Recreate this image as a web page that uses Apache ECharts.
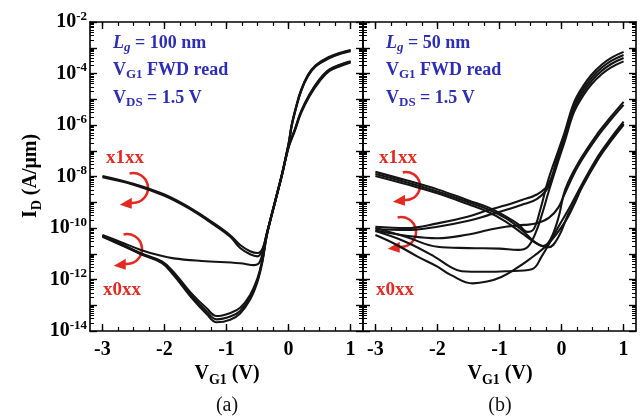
<!DOCTYPE html>
<html><head><meta charset="utf-8">
<script src="https://cdn.jsdelivr.net/npm/echarts@6/dist/echarts.min.js"></script>
<style>html,body{margin:0;padding:0;background:#fff}#c{width:643px;height:419px}</style>
</head><body><div id="c"></div>
<script>
// ---- tick / label values ----
const xMajorTicks = [-3, -2, -1, 0, 1];
const xMinorTicks = [-3, -2.75, -2.5, -2.25, -2, -1.75, -1.5, -1.25, -1, -0.75, -0.5, -0.25, 0, 0.25, 0.5, 0.75, 1];
const yLabelValues = [1e-14, 1e-12, 1e-10, 1e-8, 1e-6, 1e-4, 1e-2];
const yMajorTicks = [1e-14, 1e-13, 1e-12, 1e-11, 1e-10, 1e-9, 1e-8, 1e-7, 1e-6, 1e-5, 1e-4, 1e-3, 1e-2];
const yMinorMultipliers = [2, 3, 4, 5, 6, 7, 8, 9];

// ---- data: [V_G1 (V), log10(I_D / (A/um))] ----
// panel (a) Lg = 100 nm
const a_x1xx_1 = [[-3,-8.03],[-2.5,-8.32],[-2,-8.75],[-1.6,-9.25],[-1.2,-9.88],[-0.94,-10.34],[-0.78,-10.78],[-0.62,-11.02],[-0.5,-11.1],[-0.42,-10.85],[-0.35,-10.2],[-0.2,-8.8],[-0.1,-7.85],[0,-6.75],[0.05,-6.0],[0.12,-5.3],[0.2,-4.65],[0.31,-4.06],[0.44,-3.67],[0.66,-3.35],[0.85,-3.18],[1,-3.09]];
const a_x1xx_2 = [[-3,-7.98],[-2.5,-8.28],[-2,-8.7],[-1.6,-9.2],[-1.2,-9.82],[-0.94,-10.28],[-0.78,-10.66],[-0.62,-10.9],[-0.5,-10.97],[-0.42,-10.8],[-0.35,-10.2],[-0.2,-8.82],[-0.1,-7.88],[0,-6.85],[0.1,-6.2],[0.2,-5.5],[0.34,-4.83],[0.5,-4.25],[0.66,-3.86],[0.85,-3.66],[1,-3.54]];
const a_x0xx_1 = [[-3,-10.27],[-2.7,-10.55],[-2.38,-10.85],[-2.1,-11.05],[-1.85,-11.18],[-1.4,-11.28],[-0.78,-11.37],[-0.55,-11.44],[-0.46,-11.3],[-0.35,-10.22],[-0.2,-8.8],[-0.1,-7.83],[0,-6.72],[0.05,-6.02],[0.12,-5.33],[0.2,-4.68],[0.31,-4.1],[0.44,-3.7],[0.66,-3.38],[0.85,-3.2],[1,-3.11]];
const a_x0xx_2 = [[-3,-10.3],[-2.7,-10.62],[-2.38,-10.98],[-2.04,-11.3],[-1.85,-11.72],[-1.58,-12.5],[-1.32,-13.12],[-1.16,-13.42],[-0.94,-13.3],[-0.78,-13.1],[-0.62,-12.6],[-0.5,-11.95],[-0.42,-11.2],[-0.35,-10.25],[-0.2,-8.82],[-0.1,-7.87],[0,-6.82],[0.1,-6.18],[0.2,-5.48],[0.34,-4.8],[0.5,-4.22],[0.66,-3.84],[0.85,-3.64],[1,-3.52]];
const a_x0xx_3 = [[-3,-10.32],[-2.7,-10.64],[-2.38,-11.0],[-2.04,-11.33],[-1.85,-11.78],[-1.58,-12.58],[-1.32,-13.24],[-1.16,-13.55],[-0.94,-13.44],[-0.78,-13.22],[-0.62,-12.7],[-0.5,-12.02],[-0.42,-11.25],[-0.35,-10.27],[-0.2,-8.83],[-0.1,-7.86],[0,-6.78],[0.05,-6.05],[0.12,-5.36],[0.2,-4.7],[0.31,-4.12],[0.44,-3.72],[0.66,-3.4],[0.85,-3.22],[1,-3.13]];
const a_x0xx_4 = [[-3,-10.34],[-2.7,-10.66],[-2.38,-11.02],[-2.04,-11.36],[-1.85,-11.84],[-1.58,-12.66],[-1.32,-13.34],[-1.16,-13.66],[-0.94,-13.56],[-0.78,-13.32],[-0.62,-12.78],[-0.5,-12.08],[-0.42,-11.3],[-0.35,-10.3],[-0.2,-8.85],[-0.1,-7.9],[0,-6.88],[0.1,-6.24],[0.2,-5.55],[0.34,-4.87],[0.5,-4.3],[0.66,-3.9],[0.85,-3.7],[1,-3.57]];

// panel (b) Lg = 50 nm
const b_x1xx_1 = [[-3,-7.82],[-2.5,-8.15],[-2,-8.5],[-1.5,-8.93],[-1.18,-9.2],[-0.9,-9.55],[-0.7,-9.85],[-0.55,-10.15],[-0.45,-10.05],[-0.35,-9.35],[-0.21,-8.1],[-0.05,-6.98],[0.05,-6.28],[0.2,-5.13],[0.35,-4.48],[0.49,-4.03],[0.65,-3.65],[0.8,-3.39],[1,-3.16]];
const b_x1xx_2 = [[-3,-7.9],[-2.5,-8.22],[-2,-8.58],[-1.5,-9.0],[-1.18,-9.28],[-0.9,-9.62],[-0.64,-10.08],[-0.43,-10.55],[-0.3,-10.7],[-0.18,-10.45],[-0.05,-9.6],[0.06,-8.5],[0.275,-7.45],[0.6,-6.27],[0.8,-5.67],[1,-5.1]];
const b_x1xx_3 = [[-3,-7.98],[-2.5,-8.3],[-2,-8.65],[-1.5,-9.08],[-1.18,-9.38],[-0.9,-9.75],[-0.64,-10.2],[-0.4,-10.6],[-0.21,-10.75],[-0.05,-10.35],[0.1,-9.5],[0.22,-8.95],[0.33,-8.38],[0.6,-7.25],[0.8,-6.57],[1,-5.95]];
const b_x0xx_1 = [[-3,-9.95],[-2.5,-10.0],[-2,-9.82],[-1.5,-9.55],[-1.18,-9.3],[-0.9,-9.12],[-0.64,-8.91],[-0.4,-8.7],[-0.21,-8.3],[-0.05,-7.1],[0.05,-6.4],[0.2,-5.25],[0.35,-4.6],[0.49,-4.15],[0.65,-3.77],[0.8,-3.51],[1,-3.28]];
const b_x0xx_2 = [[-3,-10.05],[-2.5,-10.08],[-2,-9.95],[-1.5,-9.72],[-1.18,-9.5],[-0.9,-9.3],[-0.64,-9.1],[-0.4,-8.88],[-0.21,-8.4],[-0.05,-7.22],[0.05,-6.52],[0.2,-5.37],[0.35,-4.72],[0.49,-4.27],[0.65,-3.89],[0.8,-3.63],[1,-3.4]];
const b_x0xx_3 = [[-3,-10.1],[-2.5,-10.3],[-2,-10.4],[-1.5,-10.25],[-1.18,-10.08],[-0.9,-9.95],[-0.6,-9.88],[-0.4,-9.82],[-0.2,-9.6],[-0.05,-9.2],[0.06,-8.62],[0.275,-7.56],[0.6,-6.38],[0.8,-5.78],[1,-5.22]];
const b_x0xx_4 = [[-3,-10.12],[-2.5,-10.55],[-2.05,-11.11],[-1.8,-11.5],[-1.61,-11.68],[-1.24,-11.7],[-0.9,-11.68],[-0.48,-11.6],[-0.32,-11.1],[-0.05,-9.95],[0.15,-9.12],[0.33,-8.3],[0.6,-7.17],[0.8,-6.49],[1,-5.87]];
const b_x0xx_5 = [[-3,-10.27],[-2.7,-10.6],[-2.32,-11.11],[-2,-11.5],[-1.78,-11.83],[-1.43,-12.15],[-1.2,-12.08],[-0.97,-11.9],[-0.75,-11.6],[-0.53,-11.24],[-0.21,-10.6],[0.06,-9.75],[0.2,-9.1],[0.33,-8.42],[0.6,-7.29],[0.8,-6.61],[1,-5.99]];
const b_x0xx_6 = [[-3,-10.0],[-2.5,-10.35],[-2,-10.73],[-1.5,-10.78],[-1,-10.8],[-0.7,-10.85],[-0.55,-10.75],[-0.42,-10.2],[-0.3,-9.35],[-0.21,-8.6],[-0.05,-7.38],[0.05,-6.65],[0.2,-5.5],[0.35,-4.85],[0.49,-4.4],[0.65,-4.02],[0.8,-3.76],[1,-3.53]];

const panelA = [a_x1xx_1, a_x1xx_2, a_x0xx_1, a_x0xx_2, a_x0xx_3, a_x0xx_4];
const panelB = [b_x1xx_1, b_x1xx_2, b_x1xx_3, b_x0xx_1, b_x0xx_2, b_x0xx_3, b_x0xx_4, b_x0xx_5, b_x0xx_6];

// ---- styling ----
const F = 'Liberation Serif';
const BLUE = '#2e2eb4';
const RED = '#e32a22';
const yMinorTicks = [];
for (let e = -14; e < -2; e++) for (const m of yMinorMultipliers) yMinorTicks.push(m * Math.pow(10, e));

const grids = [
  {left: 90, top: 22, width: 273, height: 309},
  {left: 363, top: 22, width: 273, height: 309}
];
const XMIN = -3.2, XMAX = 1.2;

function xAxesFor(g) {
  const base = {type: 'value', gridIndex: g, min: XMIN, max: XMAX, splitLine: {show: false}};
  const line = {show: true, onZero: false, lineStyle: {color: '#000', width: 1.6}};
  const noLine = {show: false, onZero: false};
  return [
    Object.assign({}, base, {position: 'bottom', axisLine: line,
      axisTick: {show: true, inside: true, length: 7, customValues: xMajorTicks, lineStyle: {color: '#000', width: 1.4}},
      axisLabel: {show: true, customValues: xMajorTicks, margin: 9, color: '#000', fontFamily: F, fontWeight: 'bold', fontSize: 20,
        formatter: v => String(Math.round(v))}}),
    Object.assign({}, base, {position: 'bottom', axisLine: noLine,
      axisTick: {show: true, inside: true, length: 4, customValues: xMinorTicks, lineStyle: {color: '#000', width: 1.2}},
      axisLabel: {show: false}}),
    Object.assign({}, base, {position: 'top', axisLine: line,
      axisTick: {show: true, inside: true, length: 7, customValues: xMajorTicks, lineStyle: {color: '#000', width: 1.4}},
      axisLabel: {show: false}}),
    Object.assign({}, base, {position: 'top', axisLine: noLine,
      axisTick: {show: true, inside: true, length: 4, customValues: xMinorTicks, lineStyle: {color: '#000', width: 1.2}},
      axisLabel: {show: false}})
  ];
}
function yAxesFor(g) {
  const base = {type: 'log', logBase: 10, gridIndex: g, min: 1e-14, max: 1e-2, splitLine: {show: false}, minorTick: {show: false}};
  const line = {show: true, onZero: false, lineStyle: {color: '#000', width: 1.6}};
  const noLine = {show: false, onZero: false};
  const label = (g === 0) ? {show: true, customValues: yLabelValues, margin: 3, color: '#000',
      formatter: v => '{b|10}{s|' + Math.round(Math.log10(v)) + '}',
      rich: {
        b: {fontFamily: F, fontWeight: 'bold', fontSize: 20, color: '#000', lineHeight: 24},
        s: {fontFamily: F, fontWeight: 'bold', fontSize: 13, color: '#000', verticalAlign: 'top', lineHeight: 13}
      }} : {show: false};
  return [
    Object.assign({}, base, {position: 'left', axisLine: line,
      axisTick: {show: true, inside: true, length: 7, customValues: yMajorTicks, lineStyle: {color: '#000', width: 1.4}},
      axisLabel: label}),
    Object.assign({}, base, {position: 'left', axisLine: noLine,
      axisTick: {show: true, inside: true, length: 4, customValues: yMinorTicks, lineStyle: {color: '#000', width: 1}},
      axisLabel: {show: false}}),
    Object.assign({}, base, {position: 'right', axisLine: line,
      axisTick: {show: true, inside: true, length: 7, customValues: yMajorTicks, lineStyle: {color: '#000', width: 1.4}},
      axisLabel: {show: false}}),
    Object.assign({}, base, {position: 'right', axisLine: noLine,
      axisTick: {show: true, inside: true, length: 4, customValues: yMinorTicks, lineStyle: {color: '#000', width: 1}},
      axisLabel: {show: false}})
  ];
}

function curveSeries(points, g) {
  return {
    type: 'line', xAxisIndex: g * 4, yAxisIndex: g * 4,
    data: points.map(p => [p[0], Math.pow(10, p[1])]),
    smooth: 0.4, symbol: 'none', silent: true,
    lineStyle: {color: '#141414', width: 2.1}
  };
}

const series = [].concat(panelA.map(d => curveSeries(d, 0)), panelB.map(d => curveSeries(d, 1)));

// ---- annotations ----
function txt(x, y, text, rich, extra) {
  return Object.assign({type: 'text', x: x, y: y, silent: true,
    style: {text: text, rich: rich, align: 'left', verticalAlign: 'middle'}}, extra || {});
}
const blueRich = {
  b: {fontFamily: F, fontWeight: 'bold', fontSize: 18, fill: BLUE, lineHeight: 22},
  i: {fontFamily: F, fontWeight: 'bold', fontStyle: 'italic', fontSize: 18, fill: BLUE, lineHeight: 22},
  isub: {fontFamily: F, fontWeight: 'bold', fontStyle: 'italic', fontSize: 13, fill: BLUE, verticalAlign: 'bottom', lineHeight: 12},
  sub: {fontFamily: F, fontWeight: 'bold', fontSize: 13, fill: BLUE, verticalAlign: 'bottom', lineHeight: 12}
};
const blackRich = {
  m: {fontFamily: F, fontWeight: 'bold', fontSize: 20, fill: '#000', lineHeight: 26},
  sub: {fontFamily: F, fontWeight: 'bold', fontSize: 14, fill: '#000', verticalAlign: 'bottom', lineHeight: 14}
};
const redFont = {fontFamily: F, fontWeight: 'bold', fontSize: 19, fill: RED};

function arrow(cx, cy, r) {
  const a0 = -1.8, a1 = 1.72;
  const ex = cx + r * Math.cos(a1), ey = cy + r * Math.sin(a1);
  return [
    {type: 'arc', silent: true, shape: {cx: cx, cy: cy, r: r, startAngle: a0, endAngle: a1, clockwise: true},
     style: {stroke: RED, lineWidth: 2.6, fill: null}},
    {type: 'polygon', silent: true, shape: {points: [[ex - 11, ey + 2], [ex + 1, ey - 5], [ex + 1, ey + 6]]},
     style: {fill: RED}}
  ];
}

const graphics = [
  // y title
  {type: 'text', x: 31, y: 176, rotation: Math.PI / 2, silent: true,
   style: {text: '{m|I}{sub|D}{m| (A/\u03bcm)}', rich: blackRich, align: 'center', verticalAlign: 'middle'}},
  // x titles
  {type: 'text', x: 227, y: 374, silent: true,
   style: {text: '{m|V}{sub|G1}{m| (V)}', rich: blackRich, align: 'center', verticalAlign: 'middle'}},
  {type: 'text', x: 500, y: 374, silent: true,
   style: {text: '{m|V}{sub|G1}{m| (V)}', rich: blackRich, align: 'center', verticalAlign: 'middle'}},
  // panel tags
  {type: 'text', x: 227, y: 406, silent: true, style: {text: '(a)', fontFamily: F, fontSize: 20, fill: '#111', align: 'center', verticalAlign: 'middle'}},
  {type: 'text', x: 500, y: 406, silent: true, style: {text: '(b)', fontFamily: F, fontSize: 20, fill: '#111', align: 'center', verticalAlign: 'middle'}},
  // blue annotations
  txt(113, 43, '{i|L}{isub|g}{b| = 100 nm}', blueRich),
  txt(113, 70, '{b|V}{sub|G1}{b| FWD read}', blueRich),
  txt(113, 98, '{b|V}{sub|DS}{b| = 1.5 V}', blueRich),
  txt(386, 43, '{i|L}{isub|g}{b| = 50 nm}', blueRich),
  txt(386, 70, '{b|V}{sub|G1}{b| FWD read}', blueRich),
  txt(386, 98, '{b|V}{sub|DS}{b| = 1.5 V}', blueRich),
  // red labels
  {type: 'text', x: 106, y: 158, silent: true, style: Object.assign({text: 'x1xx', align: 'left', verticalAlign: 'middle'}, redFont)},
  {type: 'text', x: 103, y: 290, silent: true, style: Object.assign({text: 'x0xx', align: 'left', verticalAlign: 'middle'}, redFont)},
  {type: 'text', x: 379, y: 158, silent: true, style: Object.assign({text: 'x1xx', align: 'left', verticalAlign: 'middle'}, redFont)},
  {type: 'text', x: 376, y: 290, silent: true, style: Object.assign({text: 'x0xx', align: 'left', verticalAlign: 'middle'}, redFont)}
].concat(arrow(133, 188, 15), arrow(127, 249, 15), arrow(406, 186, 14), arrow(401, 232, 15));

const chart = echarts.init(document.getElementById('c'), null, {renderer: 'canvas'});
chart.setOption({
  animation: false,
  backgroundColor: '#fff',
  grid: grids,
  xAxis: [].concat(xAxesFor(0), xAxesFor(1)),
  yAxis: [].concat(yAxesFor(0), yAxesFor(1)),
  series: series,
  graphic: graphics
});
</script></body></html>
